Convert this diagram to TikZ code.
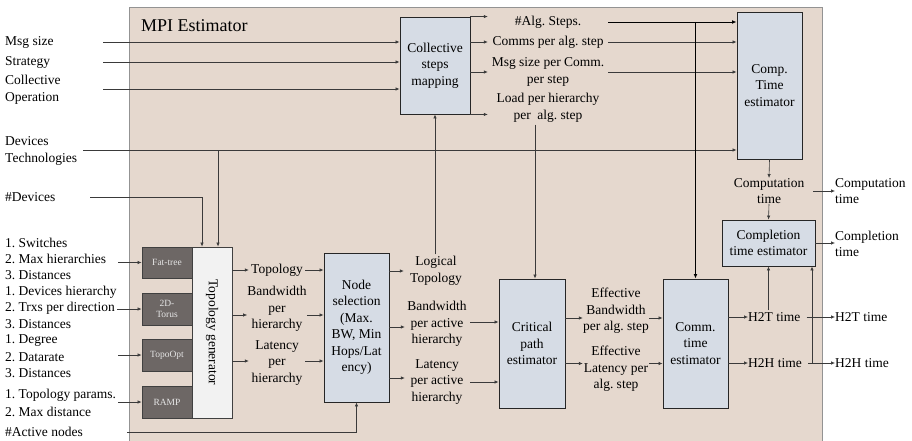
\documentclass[tikz,border=0pt]{standalone}
\usepackage{fontspec}
\setmainfont{Liberation Serif}
\usetikzlibrary{arrows.meta,calc}
\definecolor{bgbeige}{HTML}{E5D8CE}
\definecolor{boxblue}{HTML}{D6DCE5}
\definecolor{darkbox}{HTML}{6D6765}
\definecolor{tglight}{HTML}{F2F2F2}
\definecolor{lineg}{HTML}{3A3A3A}
\definecolor{frameg}{HTML}{939393}
\frenchspacing
\begin{document}
\begin{tikzpicture}[x=1pt,y=-1pt,
  txt/.style={font=\fontsize{13.5}{16.5}\selectfont, align=center, inner sep=0pt},
  ltxt/.style={txt, align=left, anchor=west},
  blk/.style={txt, draw=black!85, fill=boxblue, line width=0.9pt},
  dbox/.style={draw=black!75, fill=darkbox, text=white!90!black, line width=0.8pt,
    font=\fontsize{9.5}{11}\selectfont, align=center, inner sep=0pt, minimum width=50},
  tgbox/.style={draw=black!75, fill=tglight, line width=0.8pt, inner sep=0pt},
  arr/.style={draw=lineg, line width=0.6pt, -{Latex[length=4pt,width=3.4pt]}},
  ln/.style={draw=lineg, line width=0.6pt},
  thk/.style={draw=black, line width=0.9pt, -{Latex[length=4.5pt,width=3.8pt]}}
]
\useasboundingbox (0,0) rectangle (912,441);
% frame
\fill[bgbeige] (129,8) rectangle (822,441);
\draw[frameg, line width=1pt] (129,441) -- (129,8) -- (822,8) -- (822,441);
\node[txt, font=\fontsize{18}{20}\selectfont, anchor=west] (title) at (141,26) {MPI Estimator};

% collective steps mapping
\node[blk, minimum width=70, minimum height=97] (csm) at (435,65.5) {Collective\\steps\\mapping};

% inputs top-left
\node[ltxt] (msg) at (5,42) {Msg size};
\node[ltxt] (strat) at (5,62) {Strategy};
\node[ltxt] (coll) at (5,90) {Collective\\Operation};
\coordinate (msgS) at (103,42);
\coordinate (stratS) at (103,62);
\coordinate (collS) at (103,89);
\draw[arr] (msgS) -- (csm.west |- msgS);
\draw[arr] (stratS) -- (csm.west |- stratS);
\draw[arr] (collS) -- (csm.west |- collS);

% csm outputs
\node[txt, minimum width=120] (algs) at (548,22) {\#Alg. Steps.};
\node[txt, minimum width=120] (comms) at (548,42) {Comms per alg. step};
\node[txt, minimum width=120] (msgc) at (548,72) {Msg size per Comm.\\per step};
\node[txt, minimum width=120] (load) at (548,108) {Load per hierarchy\\per\ \ alg. step};
\draw[arr] (csm.north east) -- (algs.west |- csm.north east);
\draw[arr] (csm.east |- comms.west) -- (comms.west);
\draw[arr] (csm.east |- msgc.west) -- (msgc.west);
\draw[arr] (csm.south east) -- (load.west |- csm.south east);

% comp time estimator
\node[blk, minimum width=65, minimum height=147] (cte) at (769.5,85.5) {Comp.\\Time\\estimator};
\draw[thk] (algs.east) -- (cte.west |- algs.east);
\draw[arr] (comms.east) -- (cte.west |- comms.east);
\draw[arr] (msgc.east) -- (cte.west |- msgc.east);

% devices
\node[ltxt] (devt) at (5,151) {Devices\\Technologies};
\node[ltxt] (ndev) at (5,197) {\#Devices};
\coordinate (devtS) at (83,150);
\coordinate (ndevS) at (90,197);
\draw[arr] (devtS) -- (cte.west |- devtS);

% computation / completion
\node[txt] (ctime) at (769,191) {Computation\\time};
\node[blk, minimum width=93, minimum height=46] (cpl) at (768.5,243) {Completion\\time estimator};
\node[ltxt] (ctimex) at (835,191) {Computation\\time};
\node[ltxt] (cplx) at (835,244) {Completion\\time};
\draw[arr] (cte.south) -- (ctime.north);
\draw[arr] (ctime.south) -- (cpl.north);
\draw[arr] ([xshift=9pt]ctime.east) -- (ctimex.west);
\draw[arr] (cpl.east) -- (cplx.west |- cpl.east);

% topology generator
\node[tgbox, minimum width=40, minimum height=171] (tg) at (212,332.5) {};
\node[txt, rotate=-90] (tgtext) at (tg.center) {Topology generator};
\coordinate (tgin1) at (202,197);
\coordinate (tgin2) at (218,150);
\draw[ln] (ndevS) -- (tgin1);
\draw[arr] (tgin1) -- (tgin1 |- tg.north);
\draw[arr] (tgin2) -- (tgin2 |- tg.north);

% topology boxes
\node[dbox, minimum height=31] (ft) at (167,262.5) {Fat-tree};
\node[dbox, minimum height=32] (torus) at (167,309) {2D-\\Torus};
\node[dbox, minimum height=32] (topo) at (167,355) {TopoOpt};
\node[dbox, minimum height=32] (ramp) at (167,402) {RAMP};

% bottom-left labels
\node[ltxt] (l1) at (5,243) {1. Switches};
\node[ltxt] (l2) at (5,259) {2. Max hierarchies};
\node[ltxt] (l3) at (5,275) {3. Distances};
\node[ltxt] (l4) at (5,292) {1. Devices hierarchy};
\node[ltxt] (l5) at (5,308) {2. Trxs per direction};
\node[ltxt] (l6) at (5,324) {3. Distances};
\node[ltxt] (l7) at (5,340) {1. Degree};
\node[ltxt] (l8) at (5,357) {2. Datarate};
\node[ltxt] (l9) at (5,373) {3. Distances};
\node[ltxt] (l10) at (5,395) {1. Topology params.};
\node[ltxt] (l11) at (5,412) {2. Max distance};
\node[ltxt] (act) at (5,432) {\#Active nodes};
\coordinate (ftS) at (118,262.5);
\coordinate (torusS) at (117,309);
\coordinate (topoS) at (118,355);
\coordinate (rampS) at (118,402);
\draw[arr] (ftS) -- (ft.west);
\draw[arr] (torusS) -- (torus.west);
\draw[arr] (topoS) -- (topo.west);
\draw[arr] (rampS) -- (ramp.west);

% tg outputs
\node[txt, minimum width=56] (topl) at (277,270) {Topology};
\node[txt, minimum width=56] (bwh) at (277,309) {Bandwidth\\per\\hierarchy};
\node[txt, minimum width=56] (lah) at (277,363) {Latency\\per\\hierarchy};
\coordinate (r2) at (0,315);
\coordinate (r3) at (0,361);

% node selection
\node[blk, minimum width=65, minimum height=149] (ns) at (356.5,327.5) {Node\\selection\\(Max.\\BW, Min\\Hops/Lat\\ency)};
\draw[arr] (tg.east |- topl.west) -- (topl.west);
\draw[arr] (topl.east) -- (ns.west |- topl.east);
\draw[arr] (tg.east |- r2) -- (bwh.west |- r2);
\draw[arr] (bwh.east |- r2) -- (ns.west |- r2);
\draw[arr] (tg.east |- r3) -- (lah.west |- r3);
\draw[arr] (lah.east |- r3) -- (ns.west |- r3);
\coordinate (actS) at (127,432);
\draw[arr] (actS) -| (ns.south);

% ns outputs
\node[txt, minimum width=64] (logi) at (436,271) {Logical\\Topology};
\node[txt, minimum width=64] (bwa) at (437,324) {Bandwidth\\per active\\hierarchy};
\node[txt, minimum width=64] (lpa) at (437,382) {Latency\\per active\\hierarchy};
\coordinate (n2) at (0,327);
\coordinate (n3) at (0,378);
\draw[arr] (ns.east |- logi.west) -- (logi.west);
\draw[arr] (ns.east |- n2) -- (bwa.west |- n2);
\draw[arr] (ns.east |- n3) -- (lpa.west |- n3);
\draw[arr] ([yshift=2pt]csm.south |- logi.north) -- (csm.south);

% critical path estimator
\node[blk, minimum width=66, minimum height=129] (cpe) at (532,343.5) {Critical\\path\\estimator};
\coordinate (c2) at (0,322);
\coordinate (c3) at (0,382);
\draw[arr] ([xshift=1pt]bwa.east |- c2) -- (cpe.west |- c2);
\draw[arr] ([xshift=1pt]lpa.east |- c3) -- (cpe.west |- c3);
\coordinate (cpeIn) at ($(cpe.north)+(3,0)$);
\draw[arr] ([yshift=-2pt]cpeIn |- load.south) -- (cpeIn);

% effective
\node[txt, minimum width=66] (ebw) at (616,311) {Effective\\Bandwidth\\per alg. step};
\node[txt, minimum width=66] (elat) at (616,369) {Effective\\Latency per\\alg. step};
\coordinate (e1) at (0,318);
\coordinate (e2) at (0,363.5);

% comm time estimator
\node[blk, minimum width=65, minimum height=129] (cmt) at (695.5,343.5) {Comm.\\time\\estimator};
\draw[arr] (cpe.east |- e1) -- (ebw.west |- e1);
\draw[arr] (ebw.east |- e1) -- (cmt.west |- e1);
\draw[arr] (cpe.east |- e2) -- (elat.west |- e2);
\draw[arr] (elat.east |- e2) -- (cmt.west |- e2);
\draw[thk] (cmt.north |- algs.east) -- (cmt.north);

% H2T / H2H
\node[ltxt] (h2t) at (748,317) {H2T time};
\node[ltxt] (h2h) at (748,363) {H2H time};
\node[ltxt] (h2tx) at (835,317) {H2T time};
\node[ltxt] (h2hx) at (835,363) {H2H time};
\draw[arr] (cmt.east |- h2t.west) -- (h2t.west);
\draw[arr] (cmt.east |- h2h.west) -- (h2h.west);
\draw[arr] ([xshift=6pt]h2t.east) -- (h2tx.west);
\draw[arr] ([xshift=6pt]h2h.east) -- (h2hx.west);
\draw[arr] ([yshift=2pt]cpl.south |- h2t.north) -- (cpl.south);
\coordinate (br) at (812,363);
\draw[arr] (br) -- (br |- cpl.south);
\end{tikzpicture}
\end{document}
